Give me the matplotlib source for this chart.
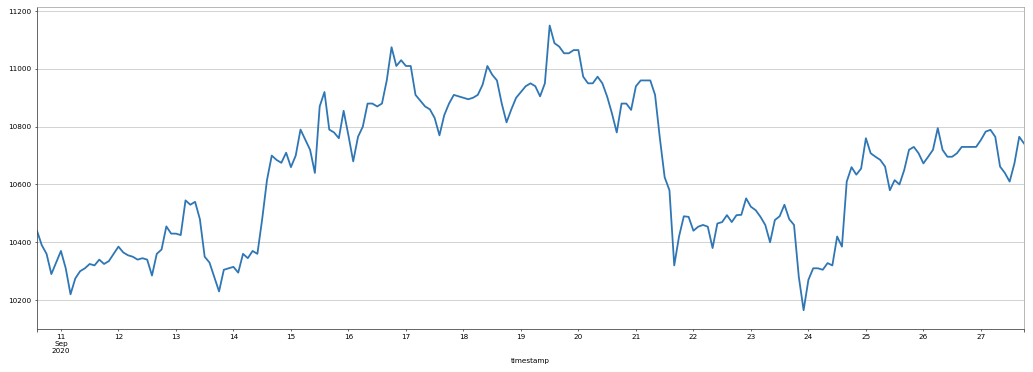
import pandas as pd
import matplotlib
matplotlib.use("Agg")
import matplotlib.pyplot as plt

# price every 2 hours, 2020-09-10 14:00 .. 2020-09-27 18:00
start = "2020-09-10 14:00"
freq = "2h"
price = [
    10440, 10390, 10360, 10290, 10330,
    10370, 10310, 10220, 10275, 10300, 10310, 10325, 10320, 10340, 10325, 10335, 10360,  # 11
    10385, 10365, 10355, 10350, 10340, 10345, 10340, 10285, 10360, 10375, 10455, 10430,  # 12
    10430, 10425, 10545, 10530, 10540, 10480, 10350, 10330, 10280, 10230, 10305, 10310,  # 13
    10315, 10295, 10360, 10345, 10370, 10360, 10480, 10615, 10700, 10685, 10675, 10710,  # 14
    10660, 10700, 10790, 10755, 10720, 10640, 10870, 10920, 10790, 10780, 10760, 10855,  # 15
    10770, 10680, 10765, 10800, 10880, 10880, 10870, 10880, 10960, 11075, 11010, 11030,  # 16
    11010, 11010, 10910, 10890, 10870, 10860, 10830, 10770, 10840, 10880, 10910, 10905,  # 17
    10900, 10895, 10900, 10910, 10945, 11010, 10980, 10960, 10880, 10815, 10860, 10900,  # 18
    10920, 10940, 10950, 10940, 10905, 10950, 11150, 11089, 11077, 11054, 11054, 11065,  # 19
    11065, 10973, 10950, 10950, 10973, 10950, 10904, 10846, 10780, 10880, 10880, 10858,  # 20
    10940, 10960, 10960, 10960, 10910, 10760, 10625, 10580, 10320, 10420, 10490, 10488,  # 21
    10440, 10454, 10460, 10454, 10380, 10465, 10470, 10494, 10470, 10494, 10495, 10552,  # 22
    10523, 10511, 10488, 10460, 10400, 10477, 10490, 10530, 10480, 10460, 10280, 10165,  # 23
    10270, 10310, 10310, 10305, 10328, 10320, 10420, 10385, 10610, 10660, 10634, 10655,  # 24
    10760, 10708, 10696, 10685, 10662, 10580, 10615, 10600, 10650, 10720, 10730, 10708,  # 25
    10673, 10696, 10720, 10795, 10720, 10696, 10696, 10708, 10730, 10730, 10730, 10730,  # 26
    10754, 10783, 10789, 10765, 10662, 10640, 10610, 10673, 10765, 10742,  # 27
]
y_limits = (10100, 11214)

plt.rcParams.update({
    "font.size": 7.3,
    "xtick.major.size": 2.5, "ytick.major.size": 2.5,
    "xtick.minor.size": 1.5,
    "xtick.major.width": 0.6, "ytick.major.width": 0.6,
    "axes.linewidth": 0.8,
})

idx = pd.date_range(start, periods=len(price), freq=freq, name="timestamp")
s = pd.Series(price, index=idx)

fig = plt.figure(figsize=(1033 / 72, 372 / 72), dpi=72)
ax = fig.add_axes([0.0358, 0.1156, 0.9555, 0.8655])
s.plot(ax=ax, color="#2f76b4", linewidth=1.8)
ax.set_ylim(*y_limits)
ax.grid(axis="y", color="#d3d3d3", linewidth=1)
ax.grid(axis="x", visible=False, which="both")
for side in ("top", "right"):
    ax.spines[side].set_color("#a8a8a8")
for side in ("left", "bottom"):
    ax.spines[side].set_color("#444444")

fig.savefig("out.png", dpi=72)
